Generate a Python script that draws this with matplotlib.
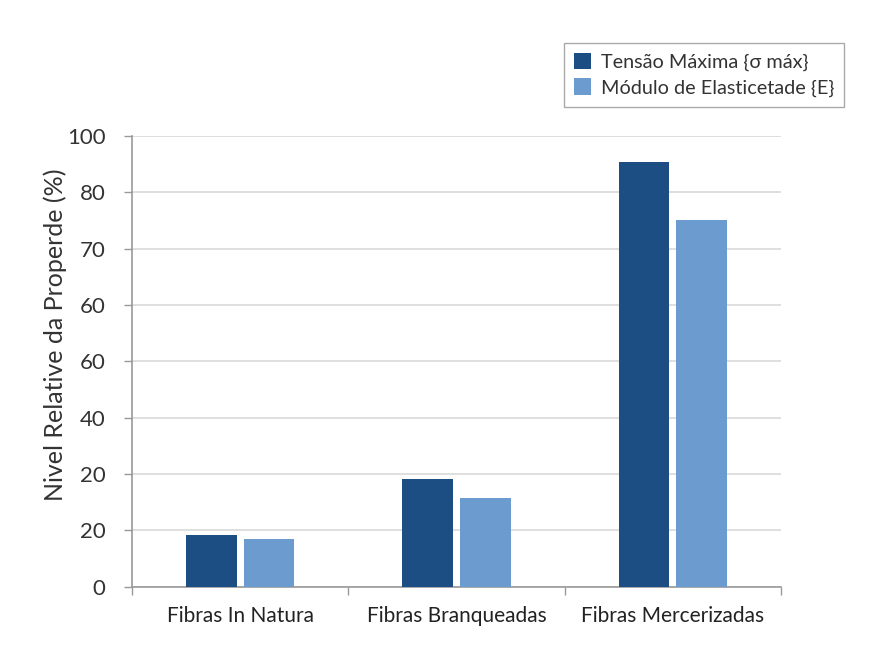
import numpy as np
import matplotlib.pyplot as plt

plt.rcParams['font.family'] = ['Lato', 'DejaVu Sans']

# relative property level (%) for each fibre treatment
categories = ['Fibras In Natura', 'Fibras Branqueadas', 'Fibras Mercerizadas']
tensao = [11.5, 23.9, 94.3]
modulo = [10.5, 19.7, 81.4]
series_names = ['Tensão Máxima {σ máx}', 'Módulo de Elasticetade {E}']

# y tick labels as printed on the axis
ytick_labels = ['0', '20', '20', '40', '60', '60', '70', '80', '100']

dark = '#1c4e84'
light = '#6c9bd0'

fig = plt.figure(figsize=(8.76, 6.47), dpi=100)
ax = fig.add_axes([132/876, 1-586.7/647, 649/876, 450.7/647])

x = np.arange(len(categories))
w = 0.235
off = w/2 + 0.016
b1 = ax.bar(x - off, tensao, w, color=dark, zorder=3)
b2 = ax.bar(x + off, modulo, w, color=light, zorder=3)

ax.set_xlim(-0.5, 2.5)
ax.set_ylim(0, 100)
ax.set_yticks(np.linspace(0, 100, 9))
ax.set_yticklabels(ytick_labels, fontsize=16, color='#333333')
ax.yaxis.grid(True, color='#d9d9d9', linewidth=1.2, zorder=0)

# category labels centred, with separator ticks between groups
ax.set_xticks(x)
ax.set_xticklabels(categories, fontsize=15, color='#222222')
ax.tick_params(axis='x', length=0, pad=14)
ax.set_xticks(np.arange(-0.5, 3, 1), minor=True)
ax.tick_params(axis='x', which='minor', length=6, color='#999999', width=1)
ax.tick_params(axis='y', length=6, color='#999999', width=1, pad=13)

for side in ['top', 'right']:
    ax.spines[side].set_visible(False)
ax.spines['left'].set_color('#999999')
ax.spines['bottom'].set_color('#999999')
ax.spines['left'].set_linewidth(1.2)
ax.spines['bottom'].set_linewidth(1.2)

ax.set_ylabel('Nivel Relative da Properde (%)', fontsize=18, color='#333333')
ax.yaxis.set_label_coords(-0.100, 0.56)

fig.legend([b1, b2], series_names, loc='upper left',
           bbox_to_anchor=(564/876, 1-43/647), fontsize=14.3,
           handlelength=0.85, handleheight=0.9, handletextpad=0.5,
           labelspacing=0.35, borderpad=0.5, borderaxespad=0,
           fancybox=False, edgecolor='#aaaaaa', framealpha=1,
           labelcolor='#333333')

fig.savefig('out.png', dpi=100, facecolor='white')
